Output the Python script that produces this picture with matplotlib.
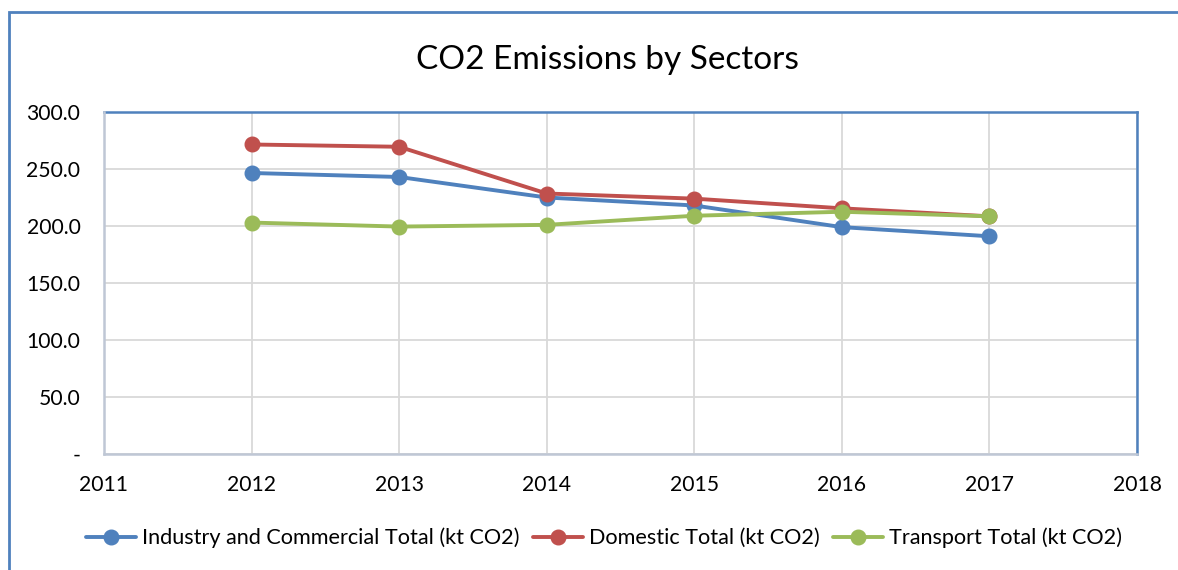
import matplotlib
matplotlib.use("Agg")
import matplotlib.pyplot as plt
from matplotlib.patches import Rectangle
from matplotlib.ticker import FuncFormatter

years = [2012, 2013, 2014, 2015, 2016, 2017]
industry = [246.5, 243.0, 225.0, 218.0, 199.0, 191.0]
domestic = [271.5, 269.5, 228.5, 224.0, 215.5, 208.5]
transport = [203.0, 199.5, 201.0, 209.0, 212.5, 208.5]
labels = ["Industry and Commercial Total (kt CO2)", "Domestic Total (kt CO2)", "Transport Total (kt CO2)"]
colors = ["#4F81BD", "#C0504D", "#9BBB59"]
title = "CO2 Emissions by Sectors"

plt.rcParams['font.family'] = ['Lato', 'DejaVu Sans']

fig = plt.figure(figsize=(11.78, 5.70), dpi=100)
W, H = 1178, 570
# outer chart border (partially cropped)
fig.patches.append(Rectangle((9 / W, -0.1), 1.2, 1 - 12 / H + 0.1, transform=fig.transFigure,
                             fill=False, edgecolor="#4F81BD", linewidth=2.0))

ax = fig.add_axes([104 / W, 1 - 454 / H, (1137 - 104) / W, (454 - 112) / H])
for vals, lab, c in zip([industry, domestic, transport], labels, colors):
    ax.plot(years, vals, color=c, linewidth=2.8, marker="o", markersize=10.5, label=lab,
            solid_capstyle="round", zorder=3)

ax.set_xlim(2011, 2018)
ax.set_ylim(0, 300)
ax.set_xticks(range(2011, 2019))
ax.set_yticks(range(0, 301, 50))
ax.yaxis.set_major_formatter(FuncFormatter(lambda v, p: "-" if v == 0 else f"{v:.1f}"))
ax.grid(True, color="#D9D9D9", linewidth=1.3, zorder=0)
ax.tick_params(axis="both", length=0, labelsize=15.2, colors="black")
ax.tick_params(axis="y", pad=17)
ax.tick_params(axis="x", pad=15)
for s in ["top", "right"]:
    ax.spines[s].set_color("#4F81BD")
    ax.spines[s].set_linewidth(1.8)
for s in ["left", "bottom"]:
    ax.spines[s].set_color("#BFC7D5")
    ax.spines[s].set_linewidth(1.8)
    ax.spines[s].set_zorder(4)

fig.text(607 / W, 1 - 60 / H, title, ha="center", va="center", fontsize=24)

fig.legend(loc="center", bbox_to_anchor=(604 / W, 1 - 538 / H), ncol=3, frameon=False,
           fontsize=15.6, handlelength=2.3, handletextpad=0.3, columnspacing=0.6)

fig.savefig("out.png", dpi=100)
